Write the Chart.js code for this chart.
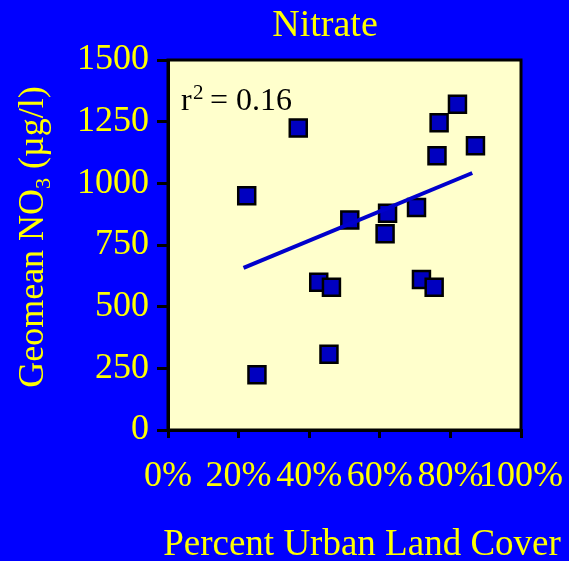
<!DOCTYPE html>
<html>
<head>
<meta charset="utf-8">
<script src="https://cdn.jsdelivr.net/npm/chart.js@4.4.1/dist/chart.umd.min.js"></script>
<style>
  html, body { margin: 0; padding: 0; background: #0000ff; }
  #wrap { width: 569px; height: 561px; }
</style>
</head>
<body>
<div id="wrap"><canvas id="chart" width="569" height="561"></canvas></div>
<script>
// values
const urbanPct = [22.3, 25.2, 36.9, 42.7, 46.3, 45.6, 51.5, 61.5, 62.2, 70.4, 71.8, 75.4, 76.2, 76.8, 82.0, 87.1];
const nitrate  = [950, 224, 1224, 599, 579, 307, 851, 796, 879, 902, 610, 579, 1112, 1246, 1321, 1152];
const fitX = [21.4, 86.2];
const fitY = [657, 1042];
const xTickValues = [0, 20, 40, 60, 80, 100];
const xTickLabels = ['0%', '20%', '40%', '60%', '80%', '100%'];
const yTickValues = [0, 250, 500, 750, 1000, 1250, 1500];

const YELLOW = '#ffff00';
const SERIF = "'Liberation Serif', 'Times New Roman', serif";

const decor = {
    id: 'decor',
    beforeDraw(chart) {
        const { ctx, chartArea: a } = chart;
        ctx.save();
        ctx.fillStyle = '#0000ff';
        ctx.fillRect(0, 0, chart.width, chart.height);
        ctx.fillStyle = '#ffffcc';
        ctx.fillRect(a.left, a.top, a.right - a.left, a.bottom - a.top);
        ctx.strokeStyle = '#000';
        ctx.lineWidth = 3;
        ctx.strokeRect(a.left, a.top, a.right - a.left, a.bottom - a.top);
        ctx.restore();
    },
    afterDraw(chart) {
        const ctx = chart.ctx;
        ctx.save();
        ctx.textBaseline = 'alphabetic';

        // title
        ctx.fillStyle = YELLOW;
        ctx.font = '38px ' + SERIF;
        ctx.textAlign = 'center';
        ctx.fillText('Nitrate', 325, 36);

        // x axis title
        ctx.font = '37px ' + SERIF;
        ctx.fillText('Percent Urban Land Cover', 362, 555);

        // y axis title with subscript
        ctx.textAlign = 'left';
        const big = '36px ' + SERIF, small = '22px ' + SERIF;
        ctx.font = big;
        const w1 = ctx.measureText('Geomean NO').width;
        const w3 = ctx.measureText(' (\u00b5g/l)').width;
        ctx.font = small;
        const w2 = ctx.measureText('3').width;
        const total = w1 + w2 + w3;
        ctx.translate(43, 237);
        ctx.rotate(-Math.PI / 2);
        let x = -total / 2;
        ctx.font = big;
        ctx.fillText('Geomean NO', x, 0);
        x += w1;
        ctx.font = small;
        ctx.fillText('3', x, 7);
        x += w2;
        ctx.font = big;
        ctx.fillText(' (\u00b5g/l)', x, 0);
        ctx.restore();

        // r squared label
        ctx.save();
        ctx.fillStyle = '#000';
        ctx.textAlign = 'left';
        ctx.font = '32px ' + SERIF;
        ctx.fillText('r', 181, 110);
        ctx.font = '21px ' + SERIF;
        ctx.fillText('2', 193, 99);
        ctx.font = '32px ' + SERIF;
        ctx.fillText('= 0.16', 210, 110);
        ctx.restore();
    }
};

new Chart(document.getElementById('chart'), {
    type: 'scatter',
    data: {
        datasets: [{
            type: 'line',
            data: fitX.map((x, i) => ({ x: x, y: fitY[i] })),
            borderColor: '#0000cc',
            borderWidth: 4,
            pointRadius: 0,
            fill: false,
            order: 0
        }, {
            data: urbanPct.map((x, i) => ({ x: x, y: nitrate[i] })),
            pointStyle: 'rect',
            pointRadius: 12,
            backgroundColor: '#0000c0',
            borderColor: '#000',
            borderWidth: 2.5,
            order: 1
        }]
    },
    options: {
        responsive: false,
        animation: false,
        events: [],
        layout: { padding: { top: 60, right: 48, left: 0, bottom: 0 } },
        plugins: { legend: { display: false }, tooltip: { enabled: false } },
        scales: {
            x: {
                type: 'linear',
                min: 0,
                max: 100,
                afterFit: s => { s.height = 131; s.paddingLeft = 0; s.paddingRight = 0; },
                afterBuildTicks: s => { s.ticks = xTickValues.map(v => ({ value: v })); },
                grid: { display: true, drawOnChartArea: false, drawTicks: true, tickLength: 8, color: '#000', lineWidth: 3 },
                border: { display: true, color: '#000', width: 3 },
                ticks: {
                    autoSkip: false,
                    maxRotation: 0,
                    minRotation: 0,
                    padding: 17,
                    color: YELLOW,
                    font: { family: SERIF, size: 36 },
                    callback: (v, i) => xTickLabels[i]
                }
            },
            y: {
                type: 'linear',
                min: 0,
                max: 1500,
                afterFit: s => { s.width = 168; s.paddingTop = 0; s.paddingBottom = 0; },
                afterBuildTicks: s => { s.ticks = yTickValues.map(v => ({ value: v })); },
                grid: { display: true, drawOnChartArea: false, drawTicks: true, tickLength: 11, color: '#000', lineWidth: 3 },
                border: { display: true, color: '#000', width: 3 },
                ticks: {
                    autoSkip: false,
                    padding: 8,
                    color: YELLOW,
                    font: { family: SERIF, size: 36 },
                    callback: v => String(v)
                }
            }
        }
    },
    plugins: [decor]
});
</script>
</body>
</html>
